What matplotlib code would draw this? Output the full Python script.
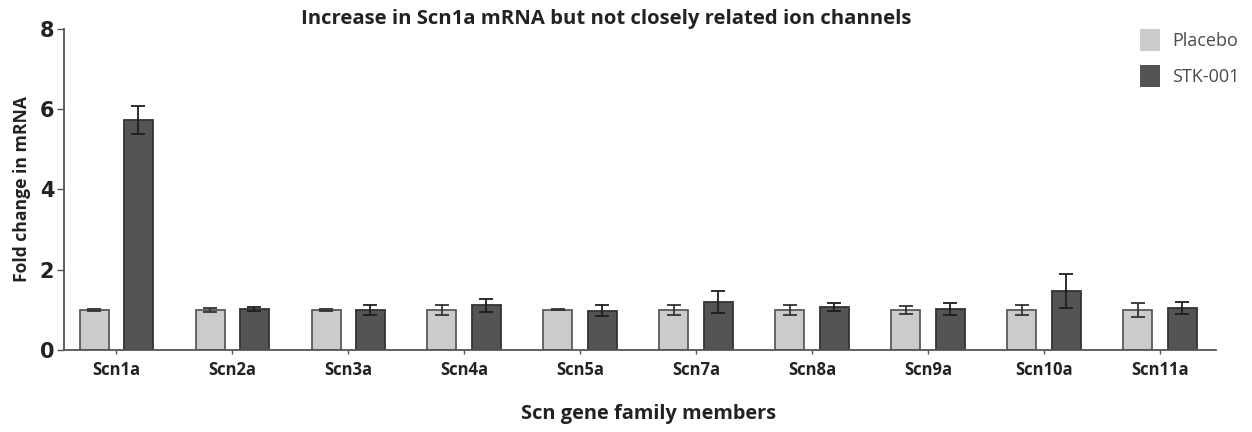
import matplotlib
matplotlib.use("Agg")
import matplotlib.pyplot as plt
import numpy as np
from matplotlib.patches import Patch

# Data
genes = ["Scn1a", "Scn2a", "Scn3a", "Scn4a", "Scn5a", "Scn7a", "Scn8a", "Scn9a", "Scn10a", "Scn11a"]
placebo = [1.0, 1.0, 1.0, 1.0, 1.0, 1.0, 1.0, 1.0, 1.0, 1.0]
placebo_err = [0.02, 0.05, 0.02, 0.13, 0.01, 0.12, 0.12, 0.1, 0.12, 0.17]
stk = [5.72, 1.02, 1.0, 1.11, 0.98, 1.19, 1.07, 1.01, 1.47, 1.05]
stk_err = [0.35, 0.05, 0.12, 0.17, 0.14, 0.28, 0.1, 0.15, 0.43, 0.15]

plt.rcParams['font.family'] = ['Open Sans', 'DejaVu Sans']

fig = plt.figure(figsize=(12.52, 4.32), dpi=100)
ax = fig.add_axes([0.051, 0.19, 0.92, 0.743])

x = np.arange(len(genes))
w = 0.25
off = 0.19

ax.bar(x - off, placebo, w, color="#cbcbcb", edgecolor="#5a5a5a", linewidth=1.3,
       yerr=placebo_err, capsize=5, error_kw=dict(ecolor="#333333", elinewidth=1.3, capthick=1.3))
ax.bar(x + off, stk, w, color="#545454", edgecolor="#333333", linewidth=1.3,
       yerr=stk_err, capsize=5, error_kw=dict(ecolor="#1e1e1e", elinewidth=1.3, capthick=1.3))

ax.set_xlim(-0.45, 9.48)
ax.set_ylim(0, 8)
ax.set_yticks([0, 2, 4, 6, 8])
ax.set_yticklabels(["0", "2", "4", "6", "8"], fontsize=15, fontweight="bold",
                   family="DejaVu Sans", color="#222222")
ax.set_xticks(x)
ax.set_xticklabels(genes, fontsize=12, fontweight="bold", color="#222222")
ax.tick_params(axis="x", length=3, width=1, color="#555555", pad=5)
ax.tick_params(axis="y", length=5, width=1, color="#555555", pad=2)

for s in ["top", "right"]:
    ax.spines[s].set_visible(False)
for s in ["left", "bottom"]:
    ax.spines[s].set_color("#555555")
    ax.spines[s].set_linewidth(1.3)

ax.set_ylabel("Fold change in mRNA", fontsize=12.6, fontweight="bold", labelpad=6, color="#222222")
fig.text(0.518, 0.03, "Scn gene family members", ha="center", fontsize=14.4, fontweight="bold",
         color="#222222")
fig.text(0.484, 0.945, "Increase in Scn1a mRNA but not closely related ion channels",
         ha="center", fontsize=14.6, fontweight="bold", color="#222222")

# legend with flat swatches
handles = [Patch(facecolor="#cbcbcb", edgecolor="none", label="Placebo"),
           Patch(facecolor="#545454", edgecolor="none", label="STK-001")]
fig.legend(handles=handles, loc="upper right", bbox_to_anchor=(1.003, 0.97), frameon=False,
           fontsize=13, handlelength=1.15, handleheight=1.5, labelcolor="#4a4a4a",
           labelspacing=0.75, handletextpad=0.65)

fig.savefig("out.png", dpi=100)
